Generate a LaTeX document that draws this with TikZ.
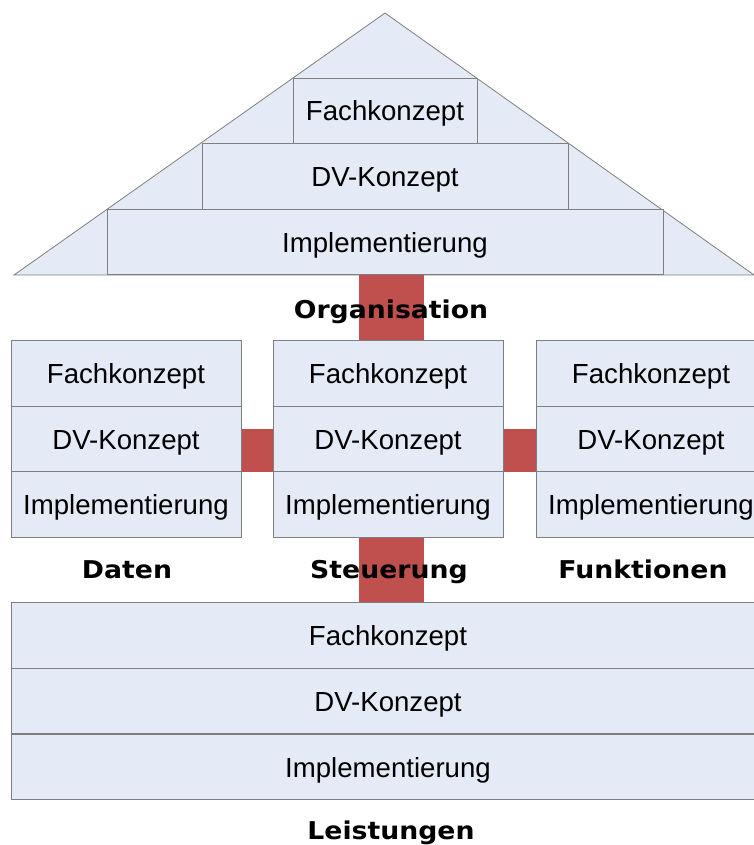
\documentclass[tikz,border=0pt]{standalone}
\usepackage{fontspec}
\newfontfamily\boxfont{Liberation Sans}
\newfontfamily\labelfont{DejaVu Sans}[FakeStretch=1.09]
\definecolor{boxfill}{HTML}{E5EBF6}
\definecolor{linegray}{HTML}{7F7F7F}
\definecolor{connred}{HTML}{C0504D}
\tikzset{
  layer/.style={draw=linegray, fill=boxfill, line width=1pt, inner sep=0pt,
    minimum height=65.5pt, text height=20pt, text depth=0pt,
    font=\boxfont\fontsize{27.6}{27.6}\selectfont},
  roofline/.style={draw=linegray, fill=boxfill, line width=0.8pt},
  link/.style={draw=connred, line cap=butt},
  viewlabel/.style={font=\labelfont\bfseries\fontsize{24.5}{24.5}\selectfont,
    inner sep=0pt, anchor=base}
}
\begin{document}
\begin{tikzpicture}[x=1pt, y=-1pt]
\useasboundingbox (0,0) rectangle (753,845);

% roof: Organisation
\path[roofline] (14,275) -- (385,13) -- (754,275) -- cycle;
\node[layer, minimum width=184pt] (r1) at (385,111) {Fachkonzept};
\node[layer, minimum width=366pt] (r2) at (385,176.5) {DV-Konzept};
\node[layer, minimum width=556pt] (r3) at (385,242) {Implementierung};

% middle views: Daten, Steuerung, Funktionen
\node[layer, minimum width=230pt] (d1) at (126,373.5) {Fachkonzept};
\node[layer, minimum width=230pt] (d2) at (126,439) {DV-Konzept};
\node[layer, minimum width=230pt] (d3) at (126,504.5) {Implementierung};

\node[layer, minimum width=230pt] (s1) at (388,373.5) {Fachkonzept};
\node[layer, minimum width=230pt] (s2) at (388,439) {DV-Konzept};
\node[layer, minimum width=230pt] (s3) at (388,504.5) {Implementierung};

\node[layer, minimum width=230pt] (f1) at (651,373.5) {Fachkonzept};
\node[layer, minimum width=230pt] (f2) at (651,439) {DV-Konzept};
\node[layer, minimum width=230pt] (f3) at (651,504.5) {Implementierung};

% bottom: Leistungen
\node[layer, minimum width=754pt] (b1) at (388,635.5) {Fachkonzept};
\node[layer, minimum width=754pt] (b2) at (388,701) {DV-Konzept};
\node[layer, minimum width=754pt] (b3) at (388,767) {Implementierung};

% red links between the views
\draw[link, line width=65pt] ([xshift=6.5pt]r3.south) -- ([xshift=3.5pt]s1.north);
\draw[link, line width=43pt] ([yshift=-11.5pt]d2.east) -- ([yshift=-11.5pt]s2.west);
\draw[link, line width=43pt] ([yshift=-11.5pt]s2.east) -- ([yshift=-11.5pt]f2.west);
\draw[link, line width=65pt] ([xshift=3.5pt]s3.south) -- ([xshift=3.5pt]b1.north);

% view labels
\node[viewlabel] (lorg) at (391,318) {Organisation};
\node[viewlabel] (ldat) at (127,578) {Daten};
\node[viewlabel] (lste) at (389,578) {Steuerung};
\node[viewlabel] (lfun) at (643,578) {Funktionen};
\node[viewlabel] (llei) at (391,839) {Leistungen};
\end{tikzpicture}
\end{document}
